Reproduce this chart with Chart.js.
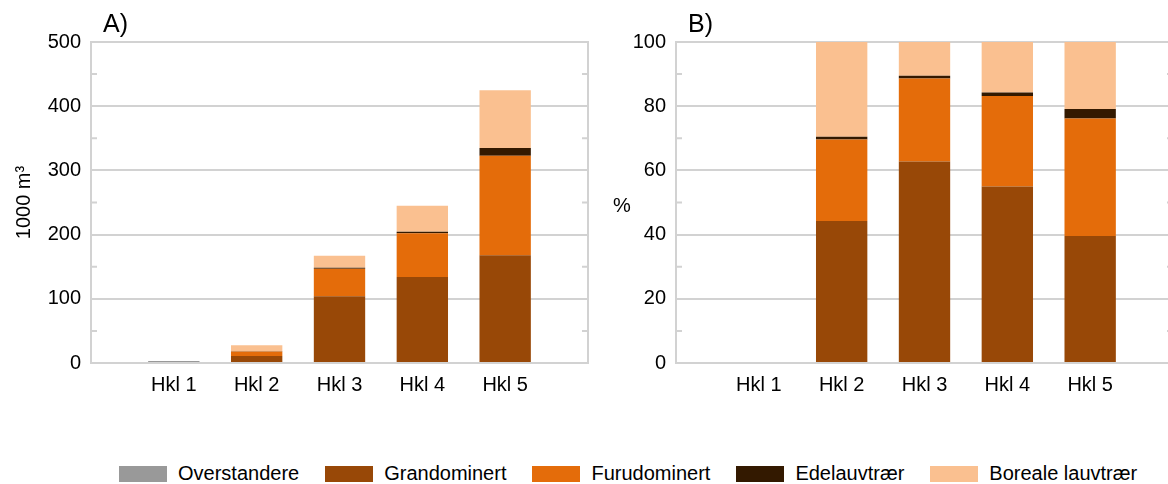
<!DOCTYPE html>
<html lang="no">
<head>
<meta charset="UTF-8">
<title>Hogstklasser</title>
<script src="https://cdn.jsdelivr.net/npm/chart.js"></script>
<style>
    html, body {
        margin: 0;
        padding: 0;
        background: #fff;
        overflow: hidden;
        width: 1168px;
        height: 484px;
    }
    body {
        position: relative;
        font-family: "Liberation Sans", Arial, sans-serif;
    }
    #boxA { position: absolute; left: 0; top: 0; width: 600px; height: 420px; }
    #boxB { position: absolute; left: 600px; top: 0; width: 600px; height: 420px; }
    #legend {
        position: absolute;
        left: 119px;
        top: 462px;
        display: flex;
        align-items: center;
        font-size: 20px;
        color: #000;
        white-space: nowrap;
    }
    .item { display: flex; align-items: center; margin-right: 26px; }
    .swatch { width: 48px; height: 16px; margin-right: 11px; }
</style>
</head>
<body>

<div id="boxA"><canvas id="chartA"></canvas></div>
<div id="boxB"><canvas id="chartB"></canvas></div>
<div id="legend"></div>

<script>
var labels = ['', 'Hkl 1', 'Hkl 2', 'Hkl 3', 'Hkl 4', 'Hkl 5', ''];
var seriesNames = ['Overstandere', 'Grandominert', 'Furudominert', 'Edelauvtrær', 'Boreale lauvtrær'];
var seriesColors = ['#999999', '#984807', '#E46C0A', '#331900', '#FAC090'];

// A) volum, 1000 m3
var volOverstandere = [null, 3, 0, 0, 0, 0, null];
var volGran = [null, 0, 11, 104, 134, 168, null];
var volFuru = [null, 0, 7, 43, 68, 155, null];
var volEdel = [null, 0, 0.3, 1.5, 2.5, 12, null];
var volBoreal = [null, 0, 9.5, 18.5, 40.5, 90, null];

// B) andel, %
var pctOverstandere = [null, 0, 0, 0, 0, 0, null];
var pctGran = [null, 0, 44.2, 62.8, 55.0, 39.6, null];
var pctFuru = [null, 0, 25.4, 25.8, 28.2, 36.6, null];
var pctEdel = [null, 0, 0.9, 0.9, 1.1, 2.9, null];
var pctBoreal = [null, 0, 29.5, 10.5, 15.7, 20.9, null];

var gridColor = '#d2d2d2';
var fontFamily = '"Liberation Sans", Arial, sans-serif';

function makeDatasets(series) {
    return series.map(function (values, i) {
        return {
            label: seriesNames[i],
            data: values,
            backgroundColor: seriesColors[i],
            borderWidth: 0,
            stack: 's',
            barPercentage: 0.62,
            categoryPercentage: 1.0
        };
    });
}

// right border, minor ticks, panel letter and the upright "%" label
var frame = {
    id: 'frame',
    afterDraw: function (chart, args, opts) {
        var ctx = chart.ctx, a = chart.chartArea, y = chart.scales.y;
        ctx.save();
        ctx.strokeStyle = gridColor;
        ctx.lineWidth = 2;
        ctx.beginPath();
        ctx.moveTo(a.right, a.top - 1);
        ctx.lineTo(a.right, a.bottom + 1);
        ctx.stroke();
        for (var v = opts.minor; v < y.max; v += opts.minor * 2) {
            var py = y.getPixelForValue(v);
            ctx.beginPath();
            ctx.moveTo(a.left, py);
            ctx.lineTo(a.left + 6, py);
            ctx.moveTo(a.right - 6, py);
            ctx.lineTo(a.right, py);
            ctx.stroke();
        }
        ctx.fillStyle = '#000';
        ctx.font = '25px ' + fontFamily;
        ctx.textAlign = 'left';
        ctx.textBaseline = 'alphabetic';
        ctx.fillText(opts.letter, a.left + 12, 32);
        if (opts.unit) {
            ctx.font = '20px ' + fontFamily;
            ctx.textAlign = 'center';
            ctx.textBaseline = 'middle';
            ctx.fillText(opts.unit, 22, (a.top + a.bottom) / 2 + 4);
        }
        ctx.restore();
    }
};

function makeOptions(cfg) {
    return {
        responsive: true,
        maintainAspectRatio: false,
        animation: false,
        layout: { padding: { top: 42, right: cfg.padRight, left: 0, bottom: 0 } },
        scales: {
            x: {
                offset: false,
                grid: { display: false, drawTicks: false },
                border: { display: true, color: gridColor, width: 2 },
                ticks: {
                    autoSkip: false,
                    maxRotation: 0,
                    padding: 10,
                    color: '#000',
                    font: { family: fontFamily, size: 20 }
                },
                afterFit: function (s) { s.height = 57; }
            },
            y: {
                stacked: true,
                min: 0,
                max: cfg.max,
                grid: { color: gridColor, lineWidth: 2, drawTicks: false },
                border: { display: true, color: gridColor, width: 2 },
                ticks: {
                    stepSize: cfg.step,
                    padding: 10,
                    color: '#000',
                    font: { family: fontFamily, size: 20 }
                },
                title: {
                    display: !!cfg.title,
                    text: cfg.title,
                    color: '#000',
                    font: { family: fontFamily, size: 20 },
                    padding: { top: 12, bottom: 0 }
                },
                afterFit: function (s) { s.width = cfg.axisWidth; }
            }
        },
        plugins: {
            legend: { display: false },
            tooltip: { enabled: false },
            frame: { minor: cfg.step / 2, letter: cfg.letter, unit: cfg.unit }
        }
    };
}

var chartA = new Chart(document.getElementById('chartA').getContext('2d'), {
    type: 'bar',
    data: {
        labels: labels,
        datasets: makeDatasets([volOverstandere, volGran, volFuru, volEdel, volBoreal])
    },
    options: makeOptions({ max: 500, step: 100, title: '1000 m³', axisWidth: 91, padRight: 12, letter: 'A)' }),
    plugins: [frame]
});

var chartB = new Chart(document.getElementById('chartB').getContext('2d'), {
    type: 'bar',
    data: {
        labels: labels,
        datasets: makeDatasets([pctOverstandere, pctGran, pctFuru, pctEdel, pctBoreal])
    },
    options: makeOptions({ max: 100, step: 20, title: '', axisWidth: 76, padRight: 27, letter: 'B)', unit: '%' }),
    plugins: [frame]
});

// shared legend under both panels
var legend = document.getElementById('legend');
seriesNames.forEach(function (name, i) {
    var item = document.createElement('div');
    item.className = 'item';
    var sw = document.createElement('span');
    sw.className = 'swatch';
    sw.style.background = seriesColors[i];
    var txt = document.createElement('span');
    txt.textContent = name;
    item.appendChild(sw);
    item.appendChild(txt);
    legend.appendChild(item);
});
</script>

</body>
</html>
